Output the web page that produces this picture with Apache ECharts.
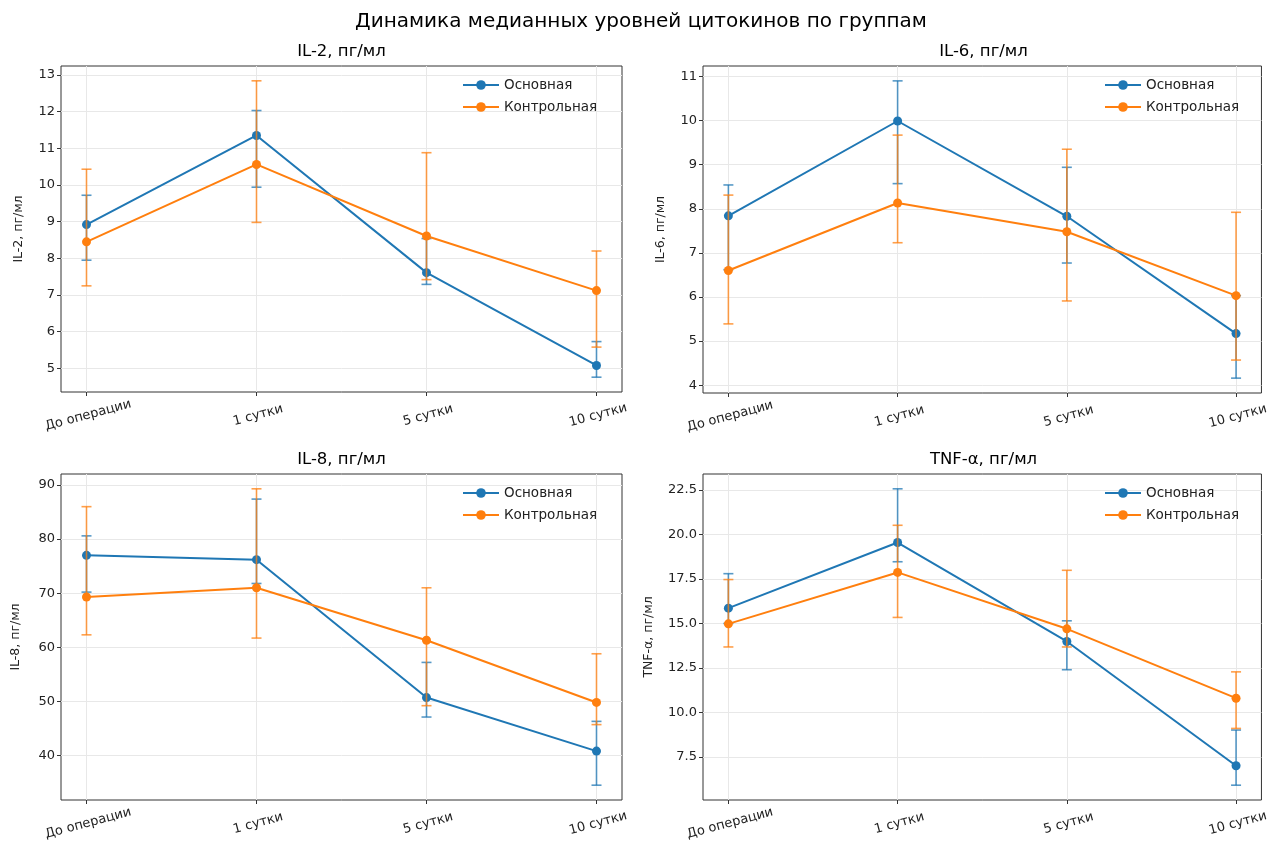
<!DOCTYPE html>
<html>
<head>
<meta charset="utf-8">
<script src="https://cdn.jsdelivr.net/npm/echarts@6/dist/echarts.min.js"></script>
<style>
html,body{margin:0;padding:0;background:#fff;}
#chart{width:1271px;height:848px;}
</style>
</head>
<body>
<div id="chart"></div>
<script>
// ---- data ----
const categories = ['До операции', '1 сутки', '5 сутки', '10 сутки'];
const groupNames = ['Основная', 'Контрольная'];

const il2MainMed  = [8.92, 11.35, 7.61, 5.08];
const il2MainLow  = [7.95, 9.94, 7.29, 4.76];
const il2MainHigh = [9.72, 12.03, 8.54, 5.73];
const il2CtrlMed  = [8.45, 10.56, 8.61, 7.12];
const il2CtrlLow  = [7.25, 8.98, 7.42, 5.58];
const il2CtrlHigh = [10.43, 12.84, 10.88, 8.20];

const il6MainMed  = [7.84, 9.99, 7.83, 5.17];
const il6MainLow  = [6.62, 8.57, 6.77, 4.16];
const il6MainHigh = [8.54, 10.90, 8.94, 6.03];
const il6CtrlMed  = [6.60, 8.13, 7.48, 6.03];
const il6CtrlLow  = [5.39, 7.23, 5.91, 4.57];
const il6CtrlHigh = [8.31, 9.67, 9.35, 7.92];

const il8MainMed  = [77.0, 76.2, 50.7, 40.8];
const il8MainLow  = [70.2, 71.8, 47.1, 34.5];
const il8MainHigh = [80.6, 87.4, 57.2, 46.3];
const il8CtrlMed  = [69.3, 71.0, 61.3, 49.8];
const il8CtrlLow  = [62.3, 61.7, 49.2, 45.7];
const il8CtrlHigh = [86.0, 89.3, 71.0, 58.8];

const tnfMainMed  = [15.86, 19.55, 13.99, 7.00];
const tnfMainLow  = [15.00, 18.47, 12.40, 5.91];
const tnfMainHigh = [17.80, 22.57, 15.15, 9.01];
const tnfCtrlMed  = [14.98, 17.87, 14.70, 10.80];
const tnfCtrlLow  = [13.68, 15.34, 13.68, 9.10];
const tnfCtrlHigh = [17.47, 20.52, 17.99, 12.28];

const il2Ticks = [5, 6, 7, 8, 9, 10, 11, 12, 13];
const il6Ticks = [4, 5, 6, 7, 8, 9, 10, 11];
const il8Ticks = [40, 50, 60, 70, 80, 90];
const tnfTicks = [7.5, 10.0, 12.5, 15.0, 17.5, 20.0, 22.5];

const mainTitle = 'Динамика медианных уровней цитокинов по группам';
const panelTitles = ['IL-2, пг/мл', 'IL-6, пг/мл', 'IL-8, пг/мл', 'TNF-α, пг/мл'];
const yNames = ['IL-2, пг/мл', 'IL-6, пг/мл', 'IL-8, пг/мл', 'TNF-α, пг/мл'];

// ---- layout / style ----
const FONT = 'DejaVu Sans';
const C_MAIN = '#1f77b4', C_CTRL = '#ff7f0e';
const GRIDC = '#e8e8e8';
const TICKFS = 13;
const xIdx = [0, 1, 2, 3];

const panels = [
  {left: 61,  top: 66,  width: 561, height: 326, med: [il2MainMed, il2CtrlMed], low: [il2MainLow, il2CtrlLow], high: [il2MainHigh, il2CtrlHigh], ticks: il2Ticks, dec: 0, nameGap: 36},
  {left: 703, top: 66,  width: 561, height: 327, med: [il6MainMed, il6CtrlMed], low: [il6MainLow, il6CtrlLow], high: [il6MainHigh, il6CtrlHigh], ticks: il6Ticks, dec: 0, nameGap: 36},
  {left: 61,  top: 474, width: 561, height: 326, med: [il8MainMed, il8CtrlMed], low: [il8MainLow, il8CtrlLow], high: [il8MainHigh, il8CtrlHigh], ticks: il8Ticks, dec: 0, nameGap: 39},
  {left: 703, top: 474, width: 561, height: 326, med: [tnfMainMed, tnfCtrlMed], low: [tnfMainLow, tnfCtrlLow], high: [tnfMainHigh, tnfCtrlHigh], ticks: tnfTicks, dec: 1, nameGap: 48}
];

const grids = [], xAxes = [], yAxes = [], series = [], legends = [], graphics = [];

graphics.push({type: 'text', x: 641, y: 22, style: {text: mainTitle, font: '20px ' + FONT, fill: '#000', textAlign: 'center', textVerticalAlign: 'middle'}});

panels.forEach((p, k) => {
  const allLow = Math.min(...p.low[0], ...p.low[1]);
  const allHigh = Math.max(...p.high[0], ...p.high[1]);
  const pad = (allHigh - allLow) * 0.05;
  const ymin = allLow - pad, ymax = allHigh + pad;

  grids.push({left: p.left, top: p.top, width: p.width, height: p.height, show: true, borderColor: '#333', borderWidth: 1, backgroundColor: 'transparent', containLabel: false});

  xAxes.push({
    type: 'value', gridIndex: k, min: -0.15, max: 3.15, position: 'bottom',
    axisLine: {show: false, onZero: false},
    axisTick: {show: true, customValues: xIdx, length: 4, lineStyle: {color: '#333'}},
    axisLabel: {customValues: xIdx, formatter: v => categories[Math.round(v)], rotate: 15, align: 'center', verticalAlign: 'top', margin: 17, color: '#222', fontFamily: FONT, fontSize: TICKFS},
    splitLine: {show: false}
  });

  yAxes.push({
    type: 'value', gridIndex: k, min: ymin, max: ymax, position: 'left',
    name: yNames[k], nameLocation: 'middle', nameGap: p.nameGap, nameRotate: 90,
    nameTextStyle: {color: '#222', fontFamily: FONT, fontSize: 12.5},
    axisLine: {show: false, onZero: false},
    axisTick: {show: true, customValues: p.ticks, length: 4, lineStyle: {color: '#333'}},
    axisLabel: {customValues: p.ticks, formatter: v => Number(v).toFixed(p.dec), color: '#222', fontFamily: FONT, fontSize: TICKFS, margin: 6},
    splitLine: {show: false}
  });

  // gridlines through the library scale (markLines)
  series.push({
    type: 'line', name: 'grid' + k, xAxisIndex: k, yAxisIndex: k, silent: true, z: 0,
    data: xIdx.map(i => [i, p.med[0][i]]), showSymbol: false, lineStyle: {opacity: 0}, itemStyle: {opacity: 0}, tooltip: {show: false},
    markLine: {
      silent: true, symbol: 'none', label: {show: false}, animation: false, z: 0,
      lineStyle: {color: GRIDC, width: 1, type: 'solid'},
      data: p.ticks.map(t => ({yAxis: t})).concat(xIdx.map(i => ({xAxis: i})))
    }
  });

  [0, 1].forEach(g => {
    const color = g === 0 ? C_MAIN : C_CTRL;
    series.push({
      type: 'custom', name: groupNames[g] + ' (разброс)', xAxisIndex: k, yAxisIndex: k, z: 10 + g * 2,
      data: xIdx.map(i => [i, p.low[g][i], p.high[g][i]]),
      encode: {x: 0, y: [1, 2]},
      itemStyle: {color: color},
      renderItem: (params, api) => {
        const x = api.value(0);
        const top = api.coord([x, api.value(2)]);
        const bot = api.coord([x, api.value(1)]);
        const h = 5;
        const st = {stroke: color, lineWidth: 1.6, opacity: 0.75};
        return {type: 'group', children: [
          {type: 'line', shape: {x1: top[0], y1: top[1], x2: bot[0], y2: bot[1]}, style: st},
          {type: 'line', shape: {x1: top[0] - h, y1: top[1], x2: top[0] + h, y2: top[1]}, style: st},
          {type: 'line', shape: {x1: bot[0] - h, y1: bot[1], x2: bot[0] + h, y2: bot[1]}, style: st}
        ]};
      },
      animation: false
    });
    series.push({
      type: 'line', name: groupNames[g], xAxisIndex: k, yAxisIndex: k, z: 11 + g * 2,
      data: xIdx.map(i => [i, p.med[g][i]]),
      symbol: 'circle', symbolSize: 9, showSymbol: true,
      lineStyle: {color: color, width: 2}, itemStyle: {color: color},
      animation: false
    });
  });

  legends.push({
    data: groupNames, orient: 'vertical', left: p.left + 401, top: p.top + 12,
    itemWidth: 36, itemHeight: 12, itemGap: 8, padding: 0,
    textStyle: {color: '#222', fontFamily: FONT, fontSize: 13.5},
    selectedMode: false
  });

  graphics.push({type: 'text', x: p.left + p.width / 2, y: p.top - 14, style: {text: panelTitles[k], font: '16.5px ' + FONT, fill: '#000', textAlign: 'center', textVerticalAlign: 'middle'}});
});

const chart = echarts.init(document.getElementById('chart'), null, {renderer: 'canvas'});
chart.setOption({
  backgroundColor: '#fff',
  animation: false,
  grid: grids, xAxis: xAxes, yAxis: yAxes, series: series, legend: legends, graphic: graphics
});
</script>
</body>
</html>
